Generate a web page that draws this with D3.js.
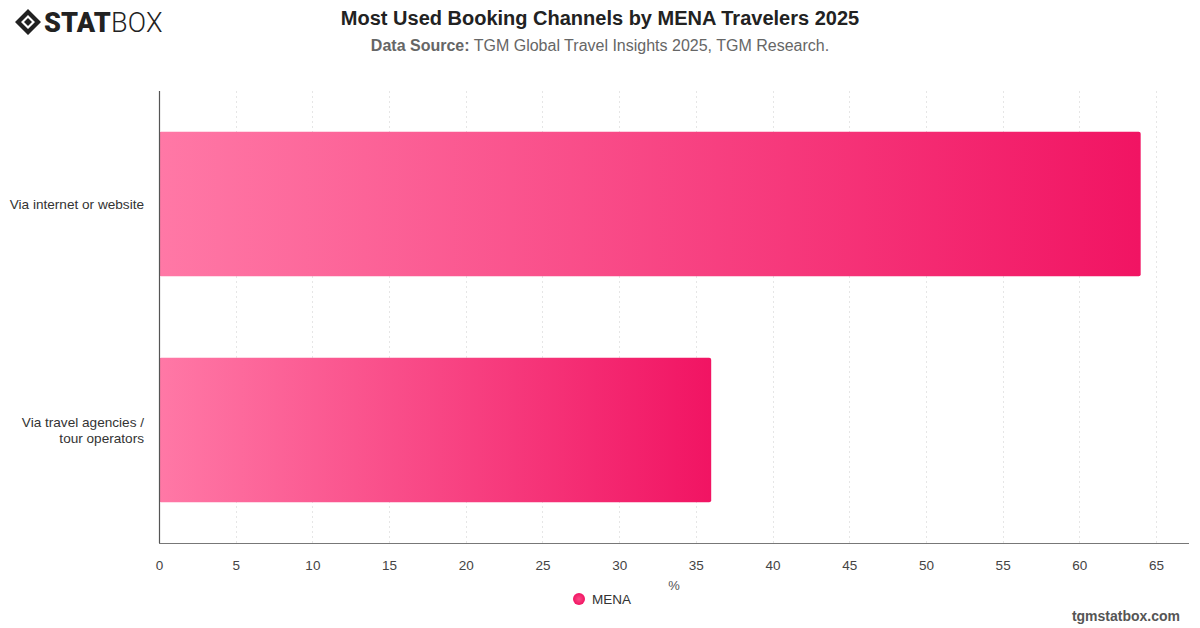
<!DOCTYPE html>
<html>
<head>
<meta charset="utf-8">
<script src="https://cdn.jsdelivr.net/npm/d3@7"></script>
<style>
  html, body { margin: 0; padding: 0; background: #fff; }
  svg { display: block; font-family: "Liberation Sans", Arial, "Noto Sans", sans-serif; }
</style>
</head>
<body>
<svg id="chart" width="1200" height="628"></svg>
<script>
// data
const categories = ['Via internet or website', 'Via travel agencies / tour operators'];
const categoryLines = [['Via internet or website'], ['Via travel agencies /', 'tour operators']];
const values = [64, 36];
const seriesName = 'MENA';
const xTicks = [0, 5, 10, 15, 20, 25, 30, 35, 40, 45, 50, 55, 60, 65];

const W = 1200, H = 628;
const margin = { top: 91, right: 11, bottom: 85, left: 159 };
const innerW = W - margin.left - margin.right;
const innerH = H - margin.top - margin.bottom;

const svg = d3.select('#chart');

// gradient for the bars
const defs = svg.append('defs');
const grad = defs.append('linearGradient')
  .attr('id', 'barGrad')
  .attr('x1', '0%').attr('x2', '100%').attr('y1', '0%').attr('y2', '0%');
grad.append('stop').attr('offset', '0%').attr('stop-color', '#ff78a6');
grad.append('stop').attr('offset', '100%').attr('stop-color', '#f11463');

const legendGrad = defs.append('radialGradient').attr('id', 'legendGrad');
legendGrad.append('stop').attr('offset', '0%').attr('stop-color', '#fb4a86');
legendGrad.append('stop').attr('offset', '100%').attr('stop-color', '#f11463');

const x = d3.scaleLinear().domain([0, 67.15]).range([0, innerW]);
const y = d3.scaleBand().domain(categories).range([0, innerH]).paddingInner(0.36).paddingOuter(0.18);

const g = svg.append('g').attr('transform', `translate(${margin.left},${margin.top})`);

// dotted grid
g.append('g')
  .selectAll('line')
  .data(xTicks.slice(1))
  .join('line')
  .attr('x1', (d) => Math.round(x(d)) + 0.5)
  .attr('x2', (d) => Math.round(x(d)) + 0.5)
  .attr('y1', 0)
  .attr('y2', innerH)
  .attr('stroke', '#e6e6e6')
  .attr('stroke-width', 1)
  .attr('stroke-dasharray', '2,3');

// bars
g.append('g')
  .selectAll('rect')
  .data(values)
  .join('rect')
  .attr('x', 0)
  .attr('y', (d, i) => y(categories[i]))
  .attr('width', (d) => x(d))
  .attr('height', y.bandwidth())
  .attr('rx', 2)
  .attr('fill', 'url(#barGrad)');

// axes lines
g.append('line')
  .attr('x1', 0.5).attr('x2', 0.5).attr('y1', 0).attr('y2', innerH)
  .attr('stroke', '#555').attr('stroke-width', 1.2);
g.append('line')
  .attr('x1', 0).attr('x2', innerW).attr('y1', innerH + 0.5).attr('y2', innerH + 0.5)
  .attr('stroke', '#777').attr('stroke-width', 1.2);

// x tick labels
const xAxis = d3.axisBottom(x).tickValues(xTicks).tickSize(0).tickPadding(17);
const xg = g.append('g').attr('transform', `translate(0,${innerH})`).call(xAxis);
xg.select('.domain').remove();
xg.selectAll('text').attr('font-size', 13.5).attr('fill', '#444').style('font-family', 'inherit');

// y category labels
const yLabels = g.append('g');
categories.forEach((c, i) => {
  const lines = categoryLines[i];
  const cy = y(c) + y.bandwidth() / 2;
  const t = yLabels.append('text')
    .attr('text-anchor', 'end')
    .attr('font-size', 13.6)
    .attr('fill', '#333');
  lines.forEach((ln, j) => {
    t.append('tspan')
      .attr('x', -15)
      .attr('y', cy + (j - (lines.length - 1) / 2) * 16 + 4.5)
      .text(ln);
  });
});

// axis title
svg.append('text')
  .attr('x', 674).attr('y', 590)
  .attr('text-anchor', 'middle')
  .attr('font-size', 13).attr('fill', '#555')
  .text('%');

// legend
svg.append('circle').attr('cx', 579).attr('cy', 599).attr('r', 6).attr('fill', 'url(#legendGrad)');
svg.append('text')
  .attr('x', 592).attr('y', 604)
  .attr('font-size', 13.5).attr('fill', '#333')
  .text(seriesName);

// title
svg.append('text')
  .attr('x', 600).attr('y', 25)
  .attr('text-anchor', 'middle')
  .attr('font-size', 20).attr('font-weight', 'bold').attr('fill', '#222')
  .text('Most Used Booking Channels by MENA Travelers 2025');

const sub = svg.append('text')
  .attr('x', 600).attr('y', 51)
  .attr('text-anchor', 'middle')
  .attr('font-size', 16).attr('fill', '#666');
sub.append('tspan').attr('font-weight', 'bold').text('Data Source:');
sub.append('tspan').text(' TGM Global Travel Insights 2025, TGM Research.');

// footer
svg.append('text')
  .attr('x', 1180).attr('y', 621)
  .attr('text-anchor', 'end')
  .attr('font-size', 14).attr('font-weight', 'bold').attr('fill', '#555')
  .text('tgmstatbox.com');

// logo
const logo = svg.append('g').attr('transform', 'translate(15,9)');
logo.append('path')
  .attr('d', 'M13,0 L26,13 L13,26 L0,13 Z M13,6 L20,13 L13,20 L6,13 Z')
  .attr('fill', '#222').attr('fill-rule', 'evenodd');
logo.append('path')
  .attr('d', 'M13,9 L17,13 L13,17 L9,13 Z')
  .attr('fill', '#222');
const lt = logo.append('text')
  .attr('x', 29).attr('y', 23)
  .attr('font-size', 27).attr('fill', '#222')
  .style('font-family', 'Roboto, "Liberation Sans", sans-serif')
  .attr('letter-spacing', 0.2);
lt.append('tspan').attr('font-weight', 900).text('STAT');
lt.append('tspan').attr('font-weight', 300).text('BOX');
</script>
</body>
</html>
